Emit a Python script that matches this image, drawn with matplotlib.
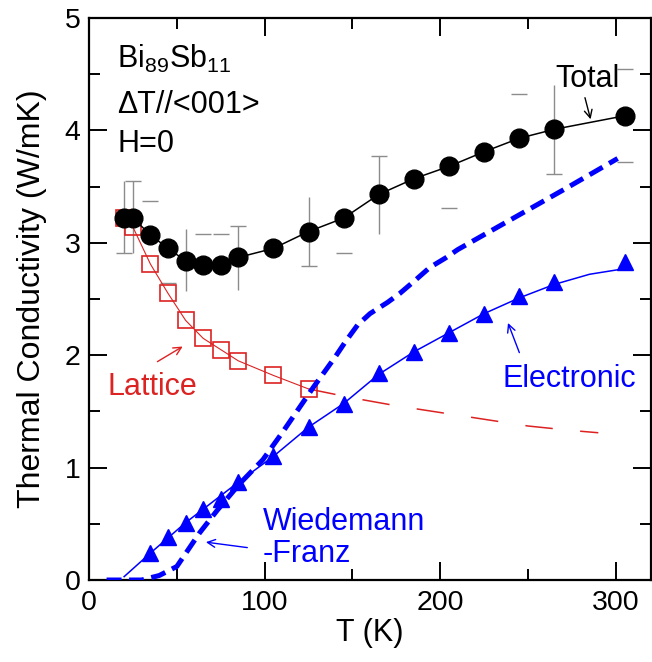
import matplotlib
matplotlib.use("Agg")
import matplotlib.pyplot as plt
import numpy as np

plt.rcParams['font.family'] = ['Liberation Sans', 'DejaVu Sans']
plt.rcParams['mathtext.fontset'] = 'custom'
plt.rcParams['mathtext.rm'] = 'Liberation Sans'
plt.rcParams['mathtext.it'] = 'Liberation Sans:italic'
plt.rcParams['mathtext.default'] = 'regular'

# ---------------- data ----------------
total_T = [20, 25, 35, 45, 55, 65, 75, 85, 105, 125, 145, 165, 185, 205, 225, 245, 265, 305]
total_k = [3.22, 3.22, 3.07, 2.95, 2.84, 2.80, 2.80, 2.87, 2.95, 3.10, 3.22, 3.43, 3.57, 3.68, 3.81, 3.93, 4.01, 4.13]

# error bars (vertical segments) and cap positions
err_T = [20, 25, 55, 85, 125, 165, 265]
err_lo = [2.91, 2.91, 2.57, 2.58, 2.79, 3.08, 3.61]
err_hi = [3.55, 3.55, 3.12, 3.15, 3.41, 3.77, 4.40]
cap_T = [20, 25, 85, 125, 165, 265, 35, 45, 65, 75, 145, 205, 245, 305, 305]
cap_k = [2.91, 3.55, 3.15, 2.79, 3.77, 3.61, 3.37, 2.64, 3.08, 3.08, 2.91, 3.31, 4.32, 4.55, 3.72]

lattice_T = [20, 25, 35, 45, 55, 65, 75, 85, 105, 125]
lattice_k = [3.22, 3.14, 2.81, 2.55, 2.31, 2.15, 2.05, 1.95, 1.82, 1.70]
lattice_ext_T = [125, 150, 175, 200, 225, 250, 275, 290]
lattice_ext_k = [1.70, 1.62, 1.55, 1.49, 1.43, 1.37, 1.33, 1.31]

elec_T = [35, 45, 55, 65, 75, 85, 105, 125, 145, 165, 185, 205, 225, 245, 265, 305]
elec_k = [0.24, 0.38, 0.51, 0.63, 0.72, 0.87, 1.10, 1.36, 1.57, 1.84, 2.03, 2.20, 2.37, 2.53, 2.65, 2.83]
elec_fit_T = [20, 35, 55, 85, 105, 125, 145, 165, 185, 205, 225, 245, 265, 285, 305]
elec_fit_k = [0.03, 0.24, 0.51, 0.87, 1.10, 1.36, 1.57, 1.83, 2.03, 2.20, 2.37, 2.51, 2.63, 2.72, 2.77]

wf_T = [10, 30, 40, 50, 63, 73, 86, 99, 110, 128, 140, 146, 153, 160, 170, 177, 186, 194, 203, 210, 244, 270, 301]
wf_k = [0.0, 0.0, 0.04, 0.12, 0.42, 0.62, 0.86, 1.07, 1.31, 1.72, 1.98, 2.12, 2.27, 2.37, 2.47, 2.55, 2.67, 2.78, 2.865, 2.94, 3.24, 3.47, 3.75]

x_ticks = [0, 100, 200, 300]
y_ticks = [0, 1, 2, 3, 4, 5]

RED = '#dd2222'
BLUE = '#0000ff'
GRAY = '#8c8c8c'

# ---------------- figure ----------------
fig = plt.figure(figsize=(6.52, 6.62), dpi=100)
ax = fig.add_axes([89/652, 1 - 580/662, (651 - 89)/652, (580 - 18)/662])

# error bars
ax.vlines(err_T, err_lo, err_hi, colors=GRAY, lw=1.0, zorder=1)
ax.plot(cap_T, cap_k, linestyle='none', marker='_', markersize=12, mew=1.0, color=GRAY, zorder=1)

# lattice
ax.plot(lattice_ext_T, lattice_ext_k, color=RED, lw=1.1, dashes=(18, 18), zorder=2)
ax.plot(lattice_T, lattice_k, color=RED, lw=0.8, marker='s', markersize=12,
        markerfacecolor='none', markeredgecolor=RED, mew=1.2, zorder=3)

# electronic
ax.plot(elec_fit_T, elec_fit_k, color=BLUE, lw=1.1, zorder=3)
ax.plot(elec_T, elec_k, linestyle='none', marker='^', markersize=12, color=BLUE, zorder=4)

# Wiedemann-Franz
ax.plot(wf_T, wf_k, color=BLUE, lw=3.6, dashes=(3.0, 1.5), zorder=5)

# total
ax.plot(total_T, total_k, color='black', lw=1.1, marker='o', markersize=13.5,
        markerfacecolor='black', zorder=6)

# axes
ax.set_xlim(0, 320)
ax.set_ylim(0, 5)
ax.set_xticks(x_ticks)
ax.set_yticks(y_ticks)
ax.set_xticks(np.arange(50, 320, 100), minor=True)
ax.set_yticks(np.arange(0.5, 5, 1.0), minor=True)
ax.tick_params(which='both', direction='in', top=True, right=True, width=1.4,
               labelsize=20.5, color='black')
ax.tick_params(which='major', length=13)
ax.tick_params(which='minor', length=8)
ax.tick_params(axis='x', which='major', pad=7)
ax.tick_params(axis='y', which='major', pad=6)
for s in ax.spines.values():
    s.set_linewidth(1.6)

ax.set_xlabel('T (K)', fontsize=22, labelpad=2)
ax.set_ylabel('Thermal Conductivity (W/mK)', fontsize=23, labelpad=13)

# texts
fs = 22
ax.text(16, 4.555, r'Bi$_{89}$Sb$_{11}$', fontsize=fs, ha='left', va='baseline')
ax.text(16, 4.155, '\u0394T//<001>', fontsize=fs, ha='left', va='baseline')
ax.text(16, 3.81, 'H=0', fontsize=fs, ha='left', va='baseline')

ax.text(265.5, 4.386, 'Total', fontsize=fs, ha='left', va='baseline')
ax.annotate('', xy=(286, 4.075), xytext=(282, 4.315),
            arrowprops=dict(arrowstyle='->', color='black', lw=1.0, mutation_scale=14))

ax.text(10.8, 1.646, 'Lattice', fontsize=fs, ha='left', va='baseline', color=RED)
ax.annotate('', xy=(54.7, 2.09), xytext=(37.6, 1.93),
            arrowprops=dict(arrowstyle='->', color=RED, lw=1.0, mutation_scale=14))

ax.text(235.3, 1.717, 'Electronic', fontsize=fs, ha='left', va='baseline', color=BLUE)
ax.annotate('', xy=(238, 2.31), xytext=(245.6, 2.0),
            arrowprops=dict(arrowstyle='->', color=BLUE, lw=1.0, mutation_scale=14))

ax.text(99.1, 0.445, 'Wiedemann', fontsize=fs, ha='left', va='baseline', color=BLUE)
ax.text(99.1, 0.16, '-Franz', fontsize=fs, ha='left', va='baseline', color=BLUE)
ax.annotate('', xy=(65, 0.34), xytext=(91.7, 0.285),
            arrowprops=dict(arrowstyle='->', color=BLUE, lw=1.0, mutation_scale=14))

fig.savefig('out.png', dpi=100)
